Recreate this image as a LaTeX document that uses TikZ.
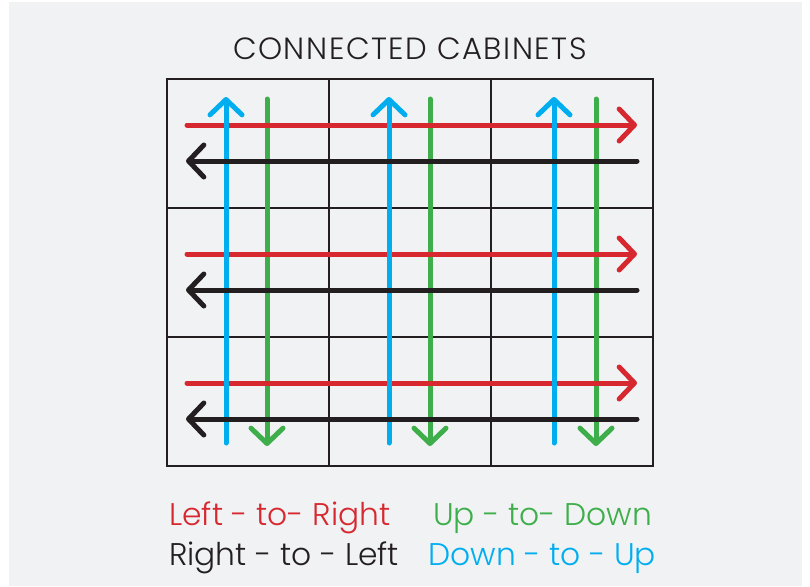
\documentclass[tikz,border=0pt]{standalone}
\usepackage{fontspec}
\setmainfont{Poppins}[UprightFont=* Light]
\newfontfamily\titlefont{Poppins}[UprightFont=* Light, LetterSpace=5]
\usetikzlibrary{arrows.meta}
\definecolor{bg}{HTML}{F1F2F4}
\definecolor{lr}{HTML}{D7282F}
\definecolor{ud}{HTML}{3DAE49}
\definecolor{du}{HTML}{00AEEF}
\definecolor{rl}{HTML}{231F20}

\begin{document}
\begin{tikzpicture}[x=0.75pt,y=-0.75pt]
	\tikzstyle{every node}=[inner sep=0pt]
	\tikzstyle{cell}=[draw=rl, line width=1.5pt, minimum width=121.5pt, minimum height=96.75pt]
	\tikzstyle{wire}=[line width=3.75pt, line cap=round, -{Straight Barb[length=11.5pt,width=24pt,round]}]
	\tikzstyle{legend}=[anchor=base west, font=\fontsize{23.5}{23.5}\selectfont]
	\useasboundingbox (0,0) rectangle (810,586);
	\fill[bg] (9,2) rectangle (802,586);
	\node (title) at (410,49) [text=rl, font=\titlefont\fontsize{23}{23}\selectfont] {CONNECTED CABINETS};
	% cabinets
	\foreach \y [count=\j] in {143.5,272.5,401.5}
		\foreach \x [count=\i] in {248,410,572}
			\node (c\j\i) at (\x,\y) [cell] {};
	% wire ends
	\foreach \y [count=\j] in {125,254,383} {
		\coordinate (lra\j) at (187,\y);
		\coordinate (lrb\j) at (637,\y);
		\coordinate (rla\j) at (637,\y+36);
		\coordinate (rlb\j) at (186,\y+36);
	}
	\foreach \x/\g [count=\i] in {226/267,389/430,554/596} {
		\coordinate (dua\i) at (\x,443);
		\coordinate (dub\i) at (\x,97);
		\coordinate (uda\i) at (\g,99);
		\coordinate (udb\i) at (\g,446);
	}
	\foreach \i in {1,2,3} \draw[wire,ud] (uda\i) -- (udb\i);
	\foreach \j in {1,2,3} \draw[wire,lr] (lra\j) -- (lrb\j);
	\foreach \i in {1,2,3} \draw[wire,du] (dua\i) -- (dub\i);
	\foreach \j in {1,2,3} \draw[wire,rl] (rla\j) -- (rlb\j);
	% legend
	\node (l1) at (169,525) [legend, text=lr] {Left - to- Right};
	\node (l2) at (433,525) [legend, text=ud] {Up - to- Down};
	\node (l3) at (169,565) [legend, text=rl] {Right - to - Left};
	\node (l4) at (428,565) [legend, text=du] {Down - to - Up};
\end{tikzpicture}
\end{document}
